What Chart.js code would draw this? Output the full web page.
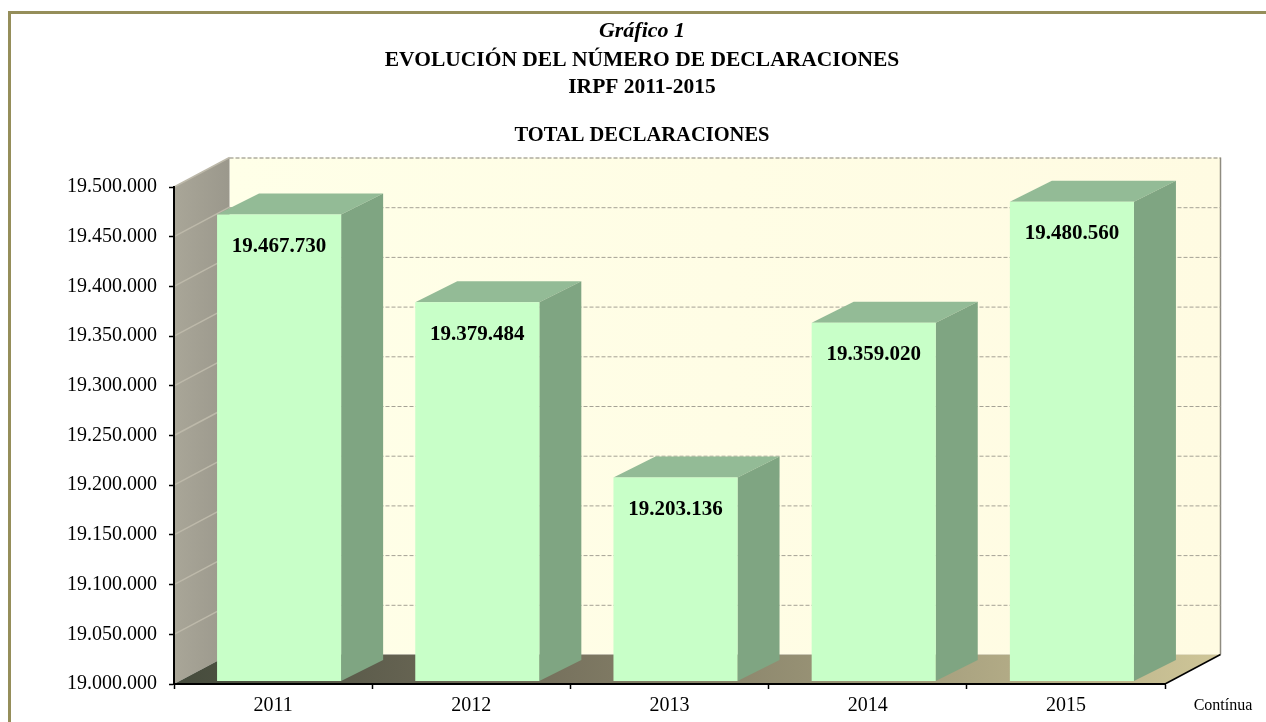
<!DOCTYPE html>
<html><head><meta charset="utf-8">
<style>html,body{margin:0;padding:0;background:#fff}#w{width:1266px;height:722px;position:relative}</style>
<script src="https://cdn.jsdelivr.net/npm/chart.js@4"></script>
</head><body><div id="w"><canvas id="c" width="1266" height="722"></canvas></div>
<script>
const categories = ['2011','2012','2013','2014','2015'];
const declaraciones = [19467730,19379484,19203136,19359020,19480560];
const yMin = 19000000, yMax = 19500000, yStep = 50000;
const headerLines = [
 {t:'Gráfico 1', y:31, f:'italic bold 22px "Liberation Serif"'},
 {t:'EVOLUCIÓN DEL NÚMERO DE DECLARACIONES', y:60, f:'bold 21.5px "Liberation Serif"'},
 {t:'IRPF 2011-2015', y:87, f:'bold 21.5px "Liberation Serif"'},
 {t:'TOTAL DECLARACIONES', y:136, f:'bold 20.5px "Liberation Serif"'}
];
const footerNote = 'Contínua';
const fmt = v => String(v).replace(/\B(?=(\d{3})+$)/g,'.');
const WALL = {dx:55.5, dy:-29.5}, BAR = {dx:42, dy:-21, sx:6, sy:-4.5, by:-3};

const scene = {
  id:'scene',
  afterDatasetsUpdate(ch){
    const base = ch.scales.y.getPixelForValue(yMin);
    ch.getDatasetMeta(0).data.forEach(el=>{
      el.x += BAR.sx; el.y += BAR.sy; el.base = base + BAR.by; el.height = el.base - el.y;
    });
  },
  beforeDraw(ch){
    const c = ch.ctx, a = ch.chartArea, y = ch.scales.y;
    const L=a.left,R=a.right,T=a.top,B=a.bottom,dx=WALL.dx,dy=WALL.dy;
    c.save();
    // frame
    c.fillStyle='#958e5a'; c.fillRect(8,11,1258,3); c.fillRect(8,11,3,711);
    // back wall
    let g=c.createLinearGradient(L+dx,0,R+dx,0);
    g.addColorStop(0,'#ffffe8'); g.addColorStop(1,'#fffbe2');
    c.fillStyle=g; c.fillRect(L+dx,T+dy,R-L,B-T);
    c.strokeStyle='#8f8c80'; c.lineWidth=1.5;
    c.beginPath(); c.moveTo(R+dx,T+dy); c.lineTo(R+dx,B+dy); c.stroke();
    // side wall
    g=c.createLinearGradient(L,0,L+dx,0);
    g.addColorStop(0,'#a9a698'); g.addColorStop(1,'#9b988c');
    c.fillStyle=g; c.beginPath(); c.moveTo(L,T); c.lineTo(L+dx,T+dy); c.lineTo(L+dx,B+dy); c.lineTo(L,B); c.closePath(); c.fill();
    // floor
    g=c.createLinearGradient(L,0,R+dx,0);
    g.addColorStop(0,'#454b3c'); g.addColorStop(.3,'#6f6a58'); g.addColorStop(.65,'#9c9678'); g.addColorStop(1,'#cfc698');
    c.fillStyle=g; c.beginPath(); c.moveTo(L,B); c.lineTo(R,B); c.lineTo(R+dx,B+dy); c.lineTo(L+dx,B+dy); c.closePath(); c.fill();
    // grid lines from the value scale
    y.ticks.forEach(t=>{
      const p=y.getPixelForValue(t.value);
      if(t.value>yMin){
        c.strokeStyle='#bdb9aa'; c.lineWidth=1.5; c.setLineDash([]);
        c.beginPath(); c.moveTo(L,p); c.lineTo(L+dx,p+dy); c.stroke();
        c.strokeStyle=t.value===yMax?'#85827a':'#a5a295'; c.lineWidth=1; c.setLineDash([4,2]);
        c.beginPath(); c.moveTo(L+dx,p+dy+.5); c.lineTo(R+dx,p+dy+.5); c.stroke();
      }
    });
    c.setLineDash([]);
    // floor right edge
    c.strokeStyle='#000'; c.lineWidth=1.5;
    c.beginPath(); c.moveTo(R,B); c.lineTo(R+dx,B+dy); c.stroke();
    // header
    c.fillStyle='#000'; c.textAlign='center'; c.textBaseline='middle';
    headerLines.forEach(l=>{c.font=l.f; c.fillText(l.t,642,l.y);});
    c.font='16px "Liberation Serif"'; c.fillText(footerNote,1223,706);
    c.restore();
  },
  beforeDatasetsDraw(ch){
    const c=ch.ctx; c.save();
    ch.getDatasetMeta(0).data.forEach(el=>{
      const h=el.width/2,l=el.x-h,r=el.x+h,t=el.y,b=el.base,dx=BAR.dx,dy=BAR.dy;
      c.fillStyle='#93bb96';
      c.beginPath(); c.moveTo(l,t); c.lineTo(l+dx,t+dy); c.lineTo(r+dx,t+dy); c.lineTo(r,t); c.closePath(); c.fill();
      c.fillStyle='#7fa582';
      c.beginPath(); c.moveTo(r,t); c.lineTo(r+dx,t+dy); c.lineTo(r+dx,b+dy); c.lineTo(r,b); c.closePath(); c.fill();
    });
    c.restore();
  },
  afterDatasetsDraw(ch){
    const c=ch.ctx; c.save();
    c.fillStyle='#000'; c.font='bold 21px "Liberation Serif"'; c.textAlign='center'; c.textBaseline='middle';
    ch.getDatasetMeta(0).data.forEach((el,i)=>c.fillText(fmt(declaraciones[i]),el.x,el.y+32));
    c.restore();
  }
};

new Chart(document.getElementById('c'),{
  type:'bar',
  data:{labels:categories,datasets:[{data:declaraciones,backgroundColor:'#c8ffc8',borderWidth:0,barPercentage:.626,categoryPercentage:1}]},
  plugins:[scene],
  options:{
    responsive:false,animation:false,
    layout:{padding:{left:0,top:187,right:101,bottom:0}},
    plugins:{legend:{display:false},title:{display:false},tooltip:{enabled:false}},
    scales:{
      x:{
        afterFit(s){s.height=38;},
        grid:{offset:true,drawOnChartArea:false,color:'#000',tickLength:5,tickWidth:1.5},
        border:{color:'#000',width:2},
        ticks:{color:'#000',font:{family:'"Liberation Serif"',size:20},padding:5,maxRotation:0}
      },
      y:{
        min:yMin,max:yMax,
        afterFit(s){s.width=174;},
        grid:{drawOnChartArea:false,color:'#000',tickLength:5,tickWidth:1.5},
        border:{color:'#000',width:2},
        ticks:{stepSize:yStep,color:'#000',font:{family:'"Liberation Serif"',size:20},padding:12,callback:v=>fmt(v)}
      }
    }
  }
});
</script></body></html>
